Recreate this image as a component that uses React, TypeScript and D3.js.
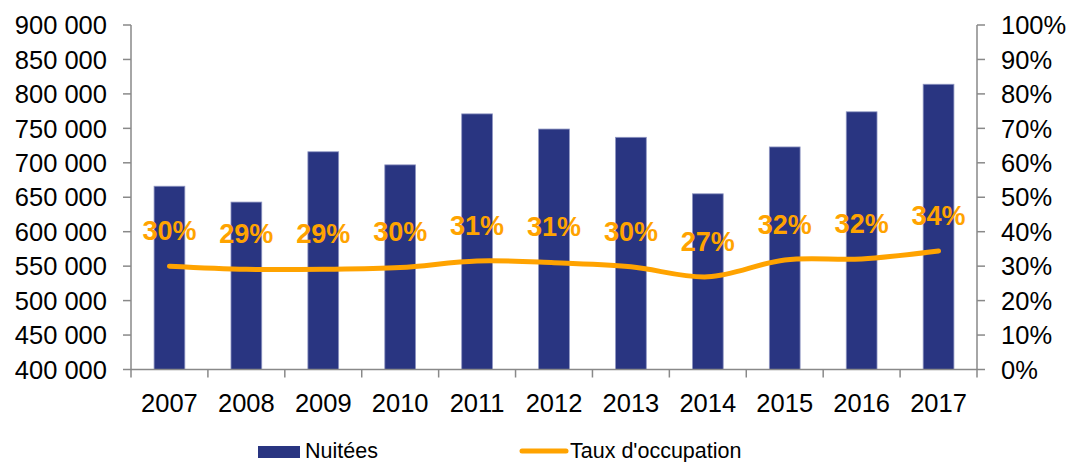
import React from 'react';
import * as d3 from 'd3';

const years = ['2007', '2008', '2009', '2010', '2011', '2012', '2013', '2014', '2015', '2016', '2017'];
const nuitees = [666000, 643000, 716000, 697000, 771000, 749000, 737000, 655000, 723000, 774000, 814000];
const tauxOccupation = [30.0, 29.1, 29.1, 29.6, 31.5, 31.0, 29.8, 26.9, 31.8, 32.1, 34.4];
const tauxLabels = ['30%', '29%', '29%', '30%', '31%', '31%', '30%', '27%', '32%', '32%', '34%'];
const leftTicks = [400000, 450000, 500000, 550000, 600000, 650000, 700000, 750000, 800000, 850000, 900000];
const rightTicks = [0, 10, 20, 30, 40, 50, 60, 70, 80, 90, 100];

const W = 1071;
const H = 462;
const margin = { left: 131, right: 94, top: 25, bottom: 92.5 };
const font = '"Liberation Sans", Arial, sans-serif';
const axisColor = '#898989';
const barColor = '#293581';
const lineColor = '#FFA300';

const fmt = (v: number) => d3.format(',')(v).replace(/,/g, ' ');

const App = () => {
  const x = d3
    .scaleBand()
    .domain(years)
    .range([margin.left, W - margin.right])
    .paddingInner(0.6)
    .paddingOuter(0.3);

  const yLeft = d3.scaleLinear().domain([400000, 900000]).range([H - margin.bottom, margin.top]);
  const yRight = d3.scaleLinear().domain([0, 100]).range([H - margin.bottom, margin.top]);

  const baseY = H - margin.bottom;
  const step = x.step();
  const cx = (y: string) => (x(y) || 0) + x.bandwidth() / 2;

  const line = d3
    .line<number>()
    .x((_, i) => cx(years[i]))
    .y((d) => yRight(d))
    .curve(d3.curveCatmullRom.alpha(0.5));

  const boundaries = d3.range(years.length + 1).map((i) => margin.left + i * step);

  return (
    <div style={{ position: 'absolute', left: 0, top: 0 }}>
      <svg width={W} height={H} viewBox={`0 0 ${W} ${H}`} fontFamily={font}>
        <rect width={W} height={H} fill="#fff" />

        {/* bars */}
        {nuitees.map((v, i) => (
          <rect
            key={years[i]}
            x={x(years[i])}
            y={yLeft(v)}
            width={x.bandwidth()}
            height={baseY - yLeft(v)}
            fill={barColor}
            stroke="#8f96c2"
            strokeWidth={0.8}
          />
        ))}

        {/* left axis */}
        <line x1={margin.left} x2={margin.left} y1={margin.top} y2={baseY} stroke={axisColor} strokeWidth={1.5} />
        {leftTicks.map((t) => (
          <g key={t}>
            <line x1={margin.left - 8} x2={margin.left} y1={yLeft(t)} y2={yLeft(t)} stroke={axisColor} strokeWidth={1.5} />
            <text x={107} y={yLeft(t)} dy="0.36em" textAnchor="end" fontSize={25.5} fill="#000">
              {fmt(t)}
            </text>
          </g>
        ))}

        {/* right axis */}
        <line x1={W - margin.right} x2={W - margin.right} y1={margin.top} y2={baseY} stroke={axisColor} strokeWidth={1.5} />
        {rightTicks.map((t) => (
          <g key={t}>
            <line
              x1={W - margin.right}
              x2={W - margin.right + 8}
              y1={yRight(t)}
              y2={yRight(t)}
              stroke={axisColor}
              strokeWidth={1.5}
            />
            <text x={1001} y={yRight(t)} dy="0.36em" textAnchor="start" fontSize={25.5} fill="#000">
              {t}%
            </text>
          </g>
        ))}

        {/* bottom axis */}
        <line x1={margin.left} x2={W - margin.right} y1={baseY} y2={baseY} stroke={axisColor} strokeWidth={1.5} />
        {boundaries.map((b, i) => (
          <line key={i} x1={b} x2={b} y1={baseY} y2={baseY + 8} stroke={axisColor} strokeWidth={1.5} />
        ))}
        {years.map((y) => (
          <text key={y} x={cx(y)} y={403} dy="0.36em" textAnchor="middle" fontSize={25.5} fill="#000">
            {y}
          </text>
        ))}

        {/* taux line */}
        <path d={line(tauxOccupation) || ''} fill="none" stroke={lineColor} strokeWidth={5} strokeLinecap="round" />
        {tauxOccupation.map((v, i) => (
          <text
            key={years[i]}
            x={cx(years[i])}
            y={yRight(v) - 36}
            dy="0.36em"
            textAnchor="middle"
            fontSize={27}
            fontWeight="bold"
            fill={lineColor}
          >
            {tauxLabels[i]}
          </text>
        ))}

        {/* legend */}
        <rect x={258} y={446} width={42} height={12} fill={barColor} />
        <text x={305} y={450} dy="0.36em" fontSize={21.5} fill="#000">
          Nuitées
        </text>
        <line x1={522} x2={566} y1={451} y2={451} stroke={lineColor} strokeWidth={5} strokeLinecap="round" />
        <text x={570} y={450} dy="0.36em" fontSize={21.5} fill="#000">
          Taux d'occupation
        </text>
      </svg>
    </div>
  );
};

export default App;
